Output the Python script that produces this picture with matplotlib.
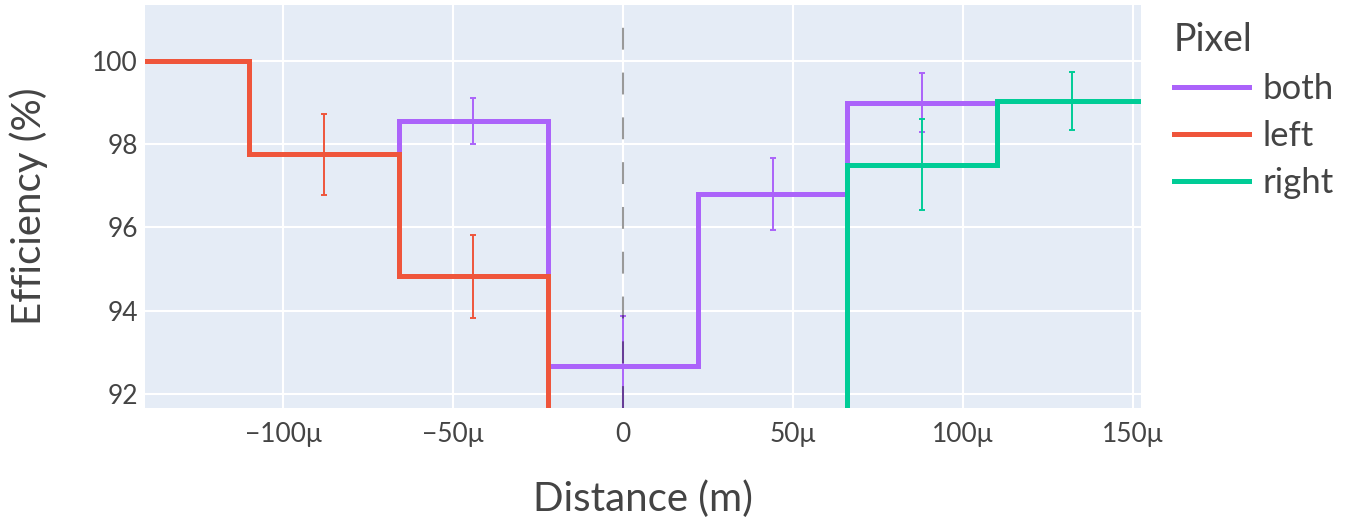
import matplotlib

matplotlib.use("Agg")
import matplotlib.pyplot as plt
import numpy as np

# bin centres (in micrometres) and efficiency per pixel selection
BIN_CENTERS = [-132, -88, -44, 0, 44, 88, 132]
BIN_WIDTH = 44
SERIES = ["both", "left", "right"]
EFFICIENCY = {
    "both": [100.0, 97.75, 98.55, 92.66, 96.8, 98.99, 99.03],
    "left": [100.0, 97.75, 94.82, 80.0, 80.0, 80.0, 80.0],
    "right": [80.0, 80.0, 80.0, 80.0, 80.0, 97.5, 99.03],
}
ERRORS = {
    "both": [0.0, 0.0, 0.55, 1.22, 0.87, 0.71, 0.0],
    "left": [0.0, 0.98, 1.0, 0.0, 0.0, 0.0, 0.0],
    "right": [0.0, 0.0, 0.0, 0.0, 0.0, 1.09, 0.69],
}
X_TICKS = [-100, -50, 0, 50, 100, 150]
X_TICK_LABELS = ["\u2212100\u03bc", "\u221250\u03bc", "0", "50\u03bc", "100\u03bc", "150\u03bc"]
Y_TICKS = [92, 94, 96, 98, 100]

COLORS = {"both": "#AB63FA", "left": "#EF553B", "right": "#00CC96"}
FONT = ["Lato", "DejaVu Sans"]
TEXT_COLOR = "#444444"

plt.rcParams["font.family"] = FONT


def main() -> None:
    fig = plt.figure(figsize=(13.45, 5.19), dpi=100)
    ax = fig.add_axes((145 / 1345, 1 - 408 / 519, (1141 - 145) / 1345, (408 - 5) / 519))
    ax.set_facecolor("#E5ECF6")
    for spine in ax.spines.values():
        spine.set_visible(False)

    centers = np.array(BIN_CENTERS, dtype=float)
    edges = np.append(centers - BIN_WIDTH / 2, centers[-1] + BIN_WIDTH / 2)

    handles = []
    for name in SERIES:
        color = COLORS[name]
        values = np.array(EFFICIENCY[name])
        errs = np.array(ERRORS[name])
        ax.stairs(values, edges, baseline=None, color=color, linewidth=3.6, zorder=3, label=name)
        mask = errs > 0
        ax.errorbar(centers[mask], values[mask], yerr=errs[mask], fmt="none", ecolor=color,
                    elinewidth=1.4, capsize=2.5, capthick=1.4, zorder=3)
        handles.append(plt.Line2D([0], [0], color=color, linewidth=3.6, label=name))

    vline = ax.axvline(0, color="black", alpha=0.4, linewidth=1.5, zorder=4)
    vline.set_dashes((10.5, 11))

    ax.set_xlim(-140.6, 152.4)
    ax.set_ylim(91.66, 101.34)
    ax.set_xticks(X_TICKS)
    ax.set_xticklabels(X_TICK_LABELS)
    ax.set_yticks(Y_TICKS)
    ax.grid(color="white", linewidth=1.5, zorder=0)
    ax.set_axisbelow(True)
    ax.tick_params(length=0, labelsize=19, labelcolor=TEXT_COLOR)
    ax.tick_params(axis="y", pad=5)
    ax.tick_params(axis="x", pad=10)

    ax.set_xlabel("Distance (m)", fontsize=29, color=TEXT_COLOR, labelpad=24)
    ax.set_ylabel("Efficiency (%)", fontsize=29, color=TEXT_COLOR, labelpad=32)

    legend = fig.legend(handles=handles, title="Pixel", loc="upper left",
                        bbox_to_anchor=(1160 / 1345, 1 - 8 / 519), frameon=False,
                        fontsize=25, title_fontsize=27, handlelength=2.16,
                        labelspacing=0.43, handletextpad=0.4, borderaxespad=0.0,
                        labelcolor=TEXT_COLOR)
    legend._legend_box.align = "left"
    legend.get_title().set_color(TEXT_COLOR)

    fig.savefig("out.png", dpi=100)
    plt.close(fig)


if __name__ == "__main__":
    main()
